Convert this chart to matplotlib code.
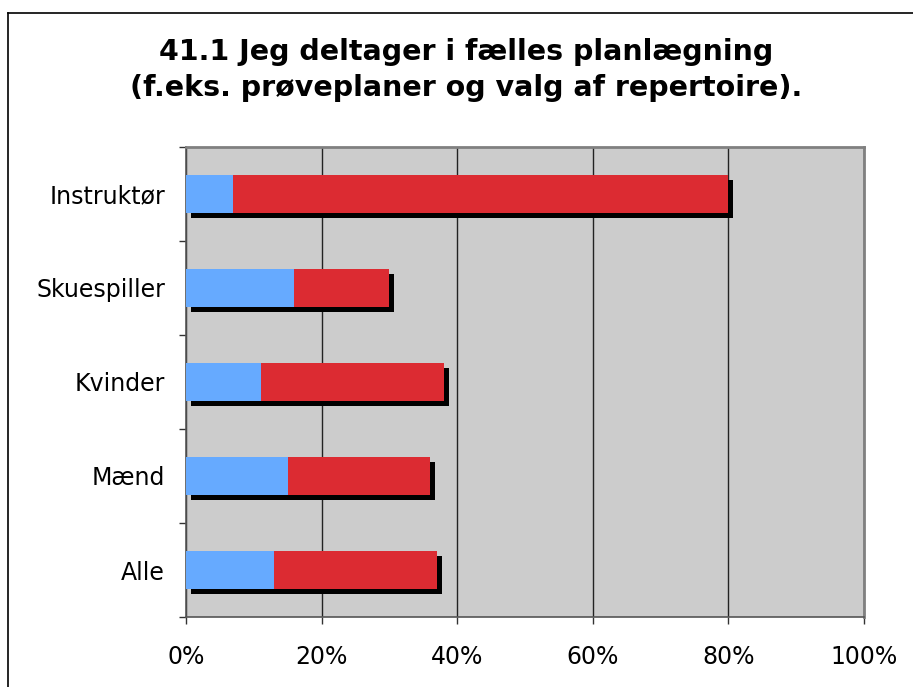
import matplotlib
matplotlib.use("Agg")
import matplotlib.pyplot as plt
import matplotlib.transforms as mtransforms
from matplotlib.lines import Line2D
import numpy as np

categories = ["Alle", "Mænd", "Kvinder", "Skuespiller", "Instruktør"]
blue_values = [13, 15, 11, 16, 7]
red_values = [24, 21, 27, 14, 73]
x_ticks = [0, 20, 40, 60, 80, 100]
x_tick_labels = ["0%", "20%", "40%", "60%", "80%", "100%"]
title = "41.1 Jeg deltager i fælles planlægning\n(f.eks. prøveplaner og valg af repertoire)."

W, H = 913, 687
fig = plt.figure(figsize=(W / 100, H / 100), dpi=100)
fig.patch.set_facecolor("white")

left, right, top, bottom = 186, 864, 147, 617
ax = fig.add_axes([left / W, 1 - bottom / H, (right - left) / W, (bottom - top) / H])
ax.set_facecolor("#CCCCCC")

y = np.arange(len(categories))
totals = [b + r for b, r in zip(blue_values, red_values)]
bh = 0.40

# shadows
shadow_tr = ax.transData + mtransforms.ScaledTranslation(5 / 100, -5 / 100, fig.dpi_scale_trans)
ax.barh(y, totals, height=bh, color="black", transform=shadow_tr, zorder=2)
ax.barh(y, blue_values, height=bh, color="#66AAFF", zorder=3)
ax.barh(y, red_values, left=blue_values, height=bh, color="#DC2B32", zorder=3)

ax.set_xlim(0, 100)
ax.set_ylim(-0.5, len(categories) - 0.5)

ax.set_xticks(x_ticks)
ax.set_xticklabels(x_tick_labels, fontsize=17, color="black")
ax.tick_params(axis="x", direction="out", length=5, width=1, color="#333333", pad=15)
ax.xaxis.grid(True, color="#222222", linewidth=1, zorder=1)
ax.set_axisbelow(True)

ax.set_yticks(np.arange(-0.5, len(categories), 1))
ax.set_yticklabels([])
ax.set_yticks(y, minor=True)
ax.set_yticklabels(categories, minor=True, fontsize=17)
ax.tick_params(axis="y", which="major", direction="out", length=5, width=1, color="#333333")
ax.tick_params(axis="y", which="minor", length=0, pad=15)

for s in ["top", "right"]:
    ax.spines[s].set_color("#808080")
    ax.spines[s].set_linewidth(2)
for s in ["left", "bottom"]:
    ax.spines[s].set_color("#555555")
    ax.spines[s].set_linewidth(1.2)

fig.text(466 / W, 1 - 70 / H, title, ha="center", va="center",
         fontsize=20.5, fontweight="bold", linespacing=1.35)

# outer border (top and left only visible)
fig.add_artist(Line2D([8 / W, 8 / W], [0, 1 - 13 / H], color="black", linewidth=1.2, transform=fig.transFigure))
fig.add_artist(Line2D([8 / W, 1], [1 - 13 / H, 1 - 13 / H], color="black", linewidth=1.2, transform=fig.transFigure))

fig.savefig("out.png", dpi=100)
